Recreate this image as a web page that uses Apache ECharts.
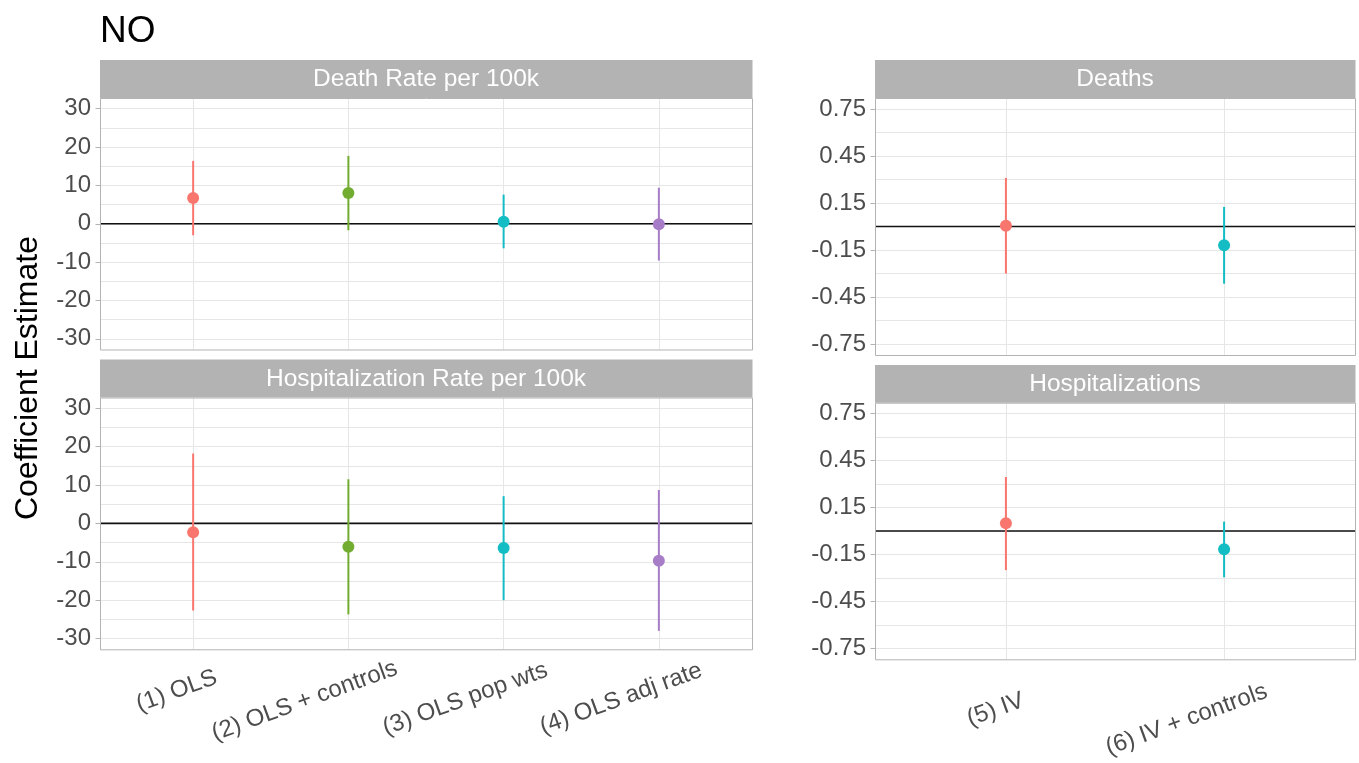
<!DOCTYPE html>
<html>
<head>
<meta charset="utf-8">
<script src="https://cdn.jsdelivr.net/npm/echarts@6/dist/echarts.min.js"></script>
<style>
html, body { margin: 0; padding: 0; background: #ffffff; }
#chart { width: 1359px; height: 763px; }
</style>
</head>
<body>
<div id="chart"></div>
<script>
// ---------------- data ----------------
const plotTitle = 'NO';
const yAxisTitle = 'Coefficient Estimate';
const panelTitles = ['Death Rate per 100k', 'Hospitalization Rate per 100k', 'Deaths', 'Hospitalizations'];
const rateModels = ['(1) OLS', '(2) OLS + controls', '(3) OLS pop wts', '(4) OLS adj rate'];
const countModels = ['(5) IV', '(6) IV + controls'];

const deathRateEst  = [6.7, 8.0, 0.5, -0.1];
const deathRateLow  = [-3.0, -1.7, -6.4, -9.6];
const deathRateHigh = [16.4, 17.7, 7.6, 9.4];

const hospRateEst  = [-2.3, -6.1, -6.4, -9.7];
const hospRateLow  = [-22.7, -23.7, -20.0, -28.0];
const hospRateHigh = [18.2, 11.5, 7.1, 8.7];

const deathsEst  = [0.005, -0.12];
const deathsLow  = [-0.30, -0.365];
const deathsHigh = [0.31, 0.125];

const hospEst  = [0.049, -0.117];
const hospLow  = [-0.25, -0.296];
const hospHigh = [0.345, 0.06];

const rateTickLabels  = [-30, -20, -10, 0, 10, 20, 30];
const countTickLabels = [-0.75, -0.45, -0.15, 0.15, 0.45, 0.75];
const rateGridValues  = [-30, -25, -20, -15, -10, -5, 0, 5, 10, 15, 20, 25, 30];
const countGridValues = [-0.75, -0.6, -0.45, -0.3, -0.15, 0, 0.15, 0.3, 0.45, 0.6, 0.75];
const rateLimit = 32.8;
const countLimit = 0.82;
const referenceValue = 0;

const rateColors  = ['#F8766D', '#72AD32', '#14BCC3', '#A87DC8'];
const countColors = ['#F8766D', '#14BCC3'];

// ---------------- layout / style ----------------
const FONT = '"Liberation Sans", Arial, Helvetica, sans-serif';
const TICK_COLOR = '#4D4D4D';
const BORDER = '#B3B3B3';

const panels = [
  { left: 100, top: 98,    width: 652, height: 251.5, stripTop: 60,    showX: false, title: panelTitles[0], cats: rateModels,  est: deathRateEst, lo: deathRateLow, hi: deathRateHigh, colors: rateColors,  ticks: rateTickLabels,  lim: rateLimit,  grid: rateGridValues,  fmt: v => String(v),     lblMargin: 23 },
  { left: 100, top: 397.5, width: 652, height: 251.8, stripTop: 359.5, showX: true,  title: panelTitles[1], cats: rateModels,  est: hospRateEst,  lo: hospRateLow,  hi: hospRateHigh,  colors: rateColors,  ticks: rateTickLabels,  lim: rateLimit,  grid: rateGridValues,  fmt: v => String(v),     lblMargin: 23 },
  { left: 875, top: 98,    width: 480, height: 257,   stripTop: 60,    showX: false, title: panelTitles[2], cats: countModels, est: deathsEst,    lo: deathsLow,    hi: deathsHigh,    colors: countColors, ticks: countTickLabels, lim: countLimit, grid: countGridValues, fmt: v => v.toFixed(2), lblMargin: 34 },
  { left: 875, top: 402.7, width: 480, height: 256.6, stripTop: 365,   showX: true,  title: panelTitles[3], cats: countModels, est: hospEst,      lo: hospLow,      hi: hospHigh,      colors: countColors, ticks: countTickLabels, lim: countLimit, grid: countGridValues, fmt: v => v.toFixed(2), lblMargin: 34 }
];

const grids = [], xAxes = [], yAxes = [], series = [], graphics = [];

panels.forEach((p, i) => {
  const n = p.cats.length;
  const xMin = 0.4, xMax = n + 0.6;
  const idx = p.cats.map((c, j) => j + 1);

  grids.push({ left: p.left, top: p.top, width: p.width, height: p.height, show: false, containLabel: false, outerBoundsMode: 'none' });

  xAxes.push({
    type: 'value', gridIndex: i, min: xMin, max: xMax,
    axisLine: { show: false },
    axisTick: { show: p.showX, length: 4.5, customValues: idx, lineStyle: { color: BORDER, width: 1 } },
    axisLabel: {
      show: p.showX, customValues: idx, rotate: 20, align: 'center', verticalAlign: 'top',
      margin: p.lblMargin, hideOverlap: false,
      formatter: v => { const c = p.cats[Math.round(v) - 1]; return c ? '{t|' + c + '}{s|' + c + '}' : ''; },
      rich: {
        t: { fontSize: 24, color: TICK_COLOR, fontFamily: FONT },
        s: { fontSize: 12.5, color: 'rgba(0,0,0,0)', fontFamily: FONT }
      }
    },
    splitLine: { show: true, lineStyle: { color: '#E6E6E6', width: 1 } }
  });

  // labelled axis
  yAxes.push({
    type: 'value', gridIndex: i, min: -p.lim, max: p.lim,
    axisLine: { show: false },
    axisTick: { show: true, length: 4.5, customValues: p.ticks, lineStyle: { color: BORDER, width: 1 } },
    axisLabel: { show: true, customValues: p.ticks, margin: 9, fontSize: 24, color: TICK_COLOR, fontFamily: FONT, formatter: p.fmt, hideOverlap: false },
    splitLine: { show: false }
  });
  // grid-line axis
  yAxes.push({
    type: 'value', gridIndex: i, min: -p.lim, max: p.lim,
    axisLine: { show: false },
    axisTick: { show: false, customValues: p.grid },
    axisLabel: { show: false },
    splitLine: { show: true, lineStyle: { color: '#E6E6E6', width: 1 } }
  });

  series.push({
    type: 'line', xAxisIndex: i, yAxisIndex: 2 * i, silent: true, z: 2,
    data: [[xMin, referenceValue], [xMax, referenceValue]],
    symbol: 'none', lineStyle: { color: '#111111', width: 1.7 }
  });

  series.push({
    type: 'custom', xAxisIndex: i, yAxisIndex: 2 * i, z: 3,
    encode: { x: 0, y: [1, 2, 3] },
    data: p.cats.map((c, j) => [j + 1, p.est[j], p.lo[j], p.hi[j], j]),
    renderItem: (params, api) => {
      const x = api.value(0);
      const pt = api.coord([x, api.value(1)]);
      const lo = api.coord([x, api.value(2)]);
      const hi = api.coord([x, api.value(3)]);
      const color = p.colors[api.value(4)];
      return {
        type: 'group',
        children: [
          { type: 'line', shape: { x1: lo[0], y1: lo[1], x2: hi[0], y2: hi[1] }, style: { stroke: color, lineWidth: 2 } },
          { type: 'circle', shape: { cx: pt[0], cy: pt[1], r: 6 }, style: { fill: color } }
        ]
      };
    }
  });

  // facet strip
  graphics.push({ type: 'rect', z: 50, shape: { x: p.left, y: p.stripTop, width: p.width + 0.5, height: p.top - p.stripTop }, style: { fill: BORDER } });
  graphics.push({ type: 'text', z: 51, x: p.left + p.width / 2, y: (p.stripTop + p.top) / 2 + 0.5,
    style: { text: p.title, fill: '#ffffff', fontSize: 24.5, fontFamily: FONT, align: 'center', verticalAlign: 'middle' } });
  // panel border
  graphics.push({ type: 'rect', z: 100, shape: { x: p.left + 0.5, y: p.top + 0.5, width: p.width, height: p.height }, style: { fill: 'transparent', stroke: BORDER, lineWidth: 1 } });
});

graphics.push({ type: 'text', z: 60, x: 28, y: 378, rotation: Math.PI / 2,
  style: { text: yAxisTitle, fill: '#000000', fontSize: 32, fontFamily: FONT, align: 'center', verticalAlign: 'middle' } });

const chart = echarts.init(document.getElementById('chart'), null, { renderer: 'canvas' });
chart.setOption({
  animation: false,
  backgroundColor: '#ffffff',
  textStyle: { fontFamily: FONT },
  title: { text: plotTitle, left: 100, top: 13, padding: 0, textStyle: { fontSize: 37, fontWeight: 'normal', color: '#000000', fontFamily: FONT } },
  grid: grids,
  xAxis: xAxes,
  yAxis: yAxes,
  series: series,
  graphic: { elements: graphics }
});
</script>
</body>
</html>
